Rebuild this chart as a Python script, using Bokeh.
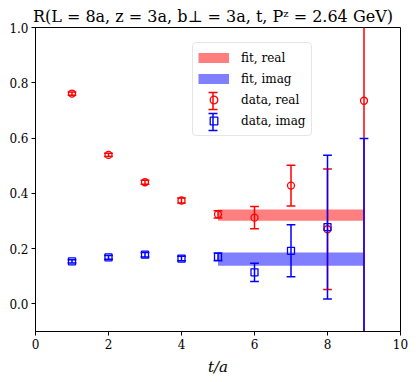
import numpy as np
from bokeh.plotting import figure
from bokeh.models import (ColumnDataSource, Legend, LegendItem, Range1d, FixedTicker,
                          PrintfTickFormatter, Whisker, TeeHead)
from bokeh.embed import file_html
from bokeh.resources import INLINE

# data
t = [1, 2, 3, 4, 5, 6, 7, 8, 9]
real_val = [0.761, 0.539, 0.440, 0.374, 0.324, 0.312, 0.428, 0.270, 0.735]
real_err = [0.006, 0.006, 0.007, 0.009, 0.013, 0.040, 0.074, 0.218, 0.950]
imag_val = [0.154, 0.168, 0.178, 0.164, 0.170, 0.114, 0.192, 0.278, -0.250]
imag_err = [0.006, 0.007, 0.008, 0.008, 0.014, 0.033, 0.094, 0.260, 0.848]
fit_range = [5, 9]
fit_real = [0.321, 0.020]
fit_imag = [0.162, 0.024]
x_ticks = [0, 2, 4, 6, 8, 10]
y_ticks = [0.0, 0.2, 0.4, 0.6, 0.8, 1.0]

title_text = "R(L = 8a, z = 3a,  b\u22a5 = 3a, t,  P\u1dbb = 2.64 GeV)"
FONT = "DejaVu Serif"
cap = 0.12

p = figure(width=408, height=378, output_backend="svg", toolbar_location=None,
           x_range=Range1d(0, 10), y_range=Range1d(-0.1, 1.0),
           min_border_left=35, min_border_right=8, min_border_top=27, min_border_bottom=47,
           title=title_text)
p.title.align = "center"
p.title.text_font = FONT
p.title.text_font_size = "16px"
p.title.text_font_style = "normal"
p.title.text_color = "black"
p.title.offset = 0
p.title.standoff = 3
p.grid.visible = False
p.outline_line_color = "black"
p.outline_line_width = 1
p.background_fill_color = "white"

for ax in (p.xaxis[0], p.yaxis[0]):
    ax.major_label_text_font = FONT
    ax.major_label_text_font_size = "12px"
    ax.major_label_text_color = "black"
    ax.minor_tick_line_color = None
    ax.major_tick_in = 0
    ax.major_tick_out = 4
    ax.axis_line_color = "black"
    ax.major_tick_line_color = "black"
    ax.major_label_standoff = 3
p.xaxis.ticker = FixedTicker(ticks=x_ticks)
p.yaxis.ticker = FixedTicker(ticks=y_ticks)
p.xaxis.formatter = PrintfTickFormatter(format="%d")
p.yaxis.formatter = PrintfTickFormatter(format="%.1f")
p.xaxis.axis_label = "t/a"
p.xaxis.axis_label_text_font = FONT
p.xaxis.axis_label_text_font_style = "italic"
p.xaxis.axis_label_text_font_size = "15px"
p.xaxis.axis_label_text_color = "black"
p.xaxis.axis_label_standoff = 6

# fit bands
p.quad(left=[fit_range[0]], right=[fit_range[1]],
       bottom=[fit_real[0] - fit_real[1]], top=[fit_real[0] + fit_real[1]],
       fill_color="red", fill_alpha=0.5, line_color=None)
p.quad(left=[fit_range[0]], right=[fit_range[1]],
       bottom=[fit_imag[0] - fit_imag[1]], top=[fit_imag[0] + fit_imag[1]],
       fill_color="blue", fill_alpha=0.5, line_color=None)

dummy = ColumnDataSource(dict(x=[np.nan], y=[np.nan]))
leg_fit_real = p.line(x="x", y="y", source=dummy, line_color="red", line_alpha=0.5,
                      line_width=10, line_cap="butt")
leg_fit_imag = p.line(x="x", y="y", source=dummy, line_color="blue", line_alpha=0.5,
                      line_width=10, line_cap="butt")

def errbars(vals, errs, color, marker):
    tt = np.array(t, dtype=float)
    v = np.array(vals); e = np.array(errs)
    src = ColumnDataSource(dict(x=tt, y=v, lo=v - e, hi=v + e,
                                cl=tt - cap, cr=tt + cap))
    p.segment(x0="x", y0="lo", x1="x", y1="hi", source=src, line_color=color, line_width=1.5)
    p.segment(x0="cl", y0="lo", x1="cr", y1="lo", source=src, line_color=color, line_width=1.5)
    p.segment(x0="cl", y0="hi", x1="cr", y1="hi", source=src, line_color=color, line_width=1.5)
    p.scatter(x="x", y="y", source=src, marker=marker, size=7, fill_color=None,
              line_color=color, line_width=1.3)
    # legend-only marker
    return p.scatter(x="x", y="y", source=dummy, marker=marker, fill_color=None,
                     line_color=color, line_width=1.3)

r_data_real = errbars(real_val, real_err, "red", "circle")
r_data_imag = errbars(imag_val, imag_err, "blue", "square")

# legend layout (screen px, relative to the frame)
LX, LY = 157, 195
PAD, GW, GH, SP = 5, 31, 19, 2
legend = Legend(items=[
    LegendItem(label="fit, real", renderers=[leg_fit_real]),
    LegendItem(label="fit, imag", renderers=[leg_fit_imag]),
    LegendItem(label="data, real", renderers=[r_data_real]),
    LegendItem(label="data, imag", renderers=[r_data_imag]),
], location=(LX, LY))
legend.label_text_font = FONT
legend.label_text_font_size = "12px"
legend.label_text_color = "black"
legend.glyph_width = GW
legend.glyph_height = GH
legend.label_height = GH
legend.spacing = SP
legend.padding = PAD
legend.margin = 0
legend.label_standoff = 12
legend.border_line_color = "#cccccc"
legend.border_line_width = 1
legend.border_radius = 4
legend.background_fill_alpha = 0.0
p.add_layout(legend, "center")

# vertical error-bar symbols for the two data entries of the legend
n_items = 4
H = 2 * PAD + n_items * GH + (n_items - 1) * SP
for i, color in ((2, "red"), (3, "blue")):
    cy = LY + H - PAD - i * (GH + SP) - GH / 2
    cx = LX + PAD + GW / 2
    wsrc = ColumnDataSource(dict(b=[cx], lo=[cy - 8.5], hi=[cy + 8.5]))
    w = Whisker(base="b", lower="lo", upper="hi", source=wsrc, dimension="height",
                base_units="screen", lower_units="screen", upper_units="screen",
                line_color=color, line_width=1.5, level="overlay",
                upper_head=TeeHead(size=9, line_color=color, line_width=1.5),
                lower_head=TeeHead(size=9, line_color=color, line_width=1.5))
    p.add_layout(w)

open("out.html", "w").write(file_html(p, INLINE))
